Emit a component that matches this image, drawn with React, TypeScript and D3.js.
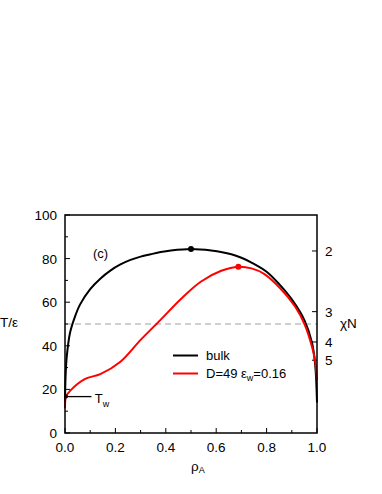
import * as d3 from 'd3'

// bulk coexistence curve
const bulkRho = [0, 0.002, 0.007, 0.02, 0.04, 0.06, 0.1, 0.14, 0.18, 0.22, 0.26, 0.3, 0.34, 0.38, 0.42, 0.5, 0.58, 0.66, 0.7, 0.74, 0.8, 0.85, 0.9, 0.95, 0.98, 0.993, 1.0]
const bulkT = [14, 25, 35, 46, 53.5, 59, 66, 70.8, 74.5, 77.3, 79.4, 80.9, 82, 83, 83.7, 84.4, 83.7, 82, 80.4, 78.2, 74, 68.3, 61.3, 51.8, 41.5, 31, 14]

// film D=49, eps_w=0.16
const filmRho = [0, 0.004, 0.02, 0.08, 0.14, 0.22, 0.3, 0.38, 0.46, 0.54, 0.62, 0.688, 0.74, 0.79, 0.853, 0.913, 0.952, 0.979, 0.992, 1.0]
const filmT = [11.3, 16.7, 19.3, 24.8, 27, 32.7, 42.7, 52, 61.5, 69.5, 74.4, 76.3, 75.5, 73, 66.5, 58, 49.5, 40, 33.5, 24.3]

const bulkCrit = [0.5, 84.4]
const filmCrit = [0.688, 76.3]
const Tw = 16.7

const xTicks = [0, 0.2, 0.4, 0.6, 0.8, 1.0]
const yTicks = [0, 20, 40, 60, 80, 100]
const chiTicks = [2, 3, 4, 5]
const chiConst = 167 // T/eps = 167 / chiN

const font = 'Liberation Sans, Arial, Helvetica, sans-serif'

export default function App() {
  const W = 382
  const H = 494
  const x = d3.scaleLinear().domain([0, 1]).range([65, 317])
  const y = d3.scaleLinear().domain([0, 100]).range([433, 215])
  const chi = d3
    .scalePow()
    .exponent(-1)
    .domain([chiConst / 100, chiConst / 50])
    .range([y(100), y(50)])

  const line = d3
    .line<number>()
    .x(d => x(d))
    .curve(d3.curveCatmullRom.alpha(0.5))

  const bulkPath = line.y((d, i) => y(bulkT[i]))(bulkRho) || ''
  const filmPath = line.y((d, i) => y(filmT[i]))(filmRho) || ''

  const xMinor = d3.range(0, 1.0001, 0.1)
  const yMinor = d3.range(0, 100.001, 10)

  return (
    <svg
      width={W}
      height={H}
      style={{ position: 'absolute', left: 0, top: 0, background: '#fff' }}
      fontFamily={font}
    >
      {/* dashed reference line */}
      <line x1={x(0)} x2={x(1)} y1={y(50)} y2={y(50)} stroke="#a0a0a0" strokeWidth={1} strokeDasharray="6,4" />

      {/* inward ticks */}
      {xMinor.map((v, i) => (
        <line key={'xt' + i} x1={x(v)} x2={x(v)} y1={y(0)} y2={y(0) - (i % 2 === 0 ? 5 : 3)} stroke="#000" strokeWidth={1} />
      ))}
      {yMinor.map((v, i) => (
        <line key={'yt' + i} x1={x(0)} x2={x(0) + (i % 2 === 0 ? 5 : 3)} y1={y(v)} y2={y(v)} stroke="#000" strokeWidth={1} />
      ))}
      {chiTicks.map(c => (
        <line key={'ct' + c} x1={x(1)} x2={x(1) - 5} y1={chi(c)} y2={chi(c)} stroke="#000" strokeWidth={1} />
      ))}

      {/* curves */}
      <path d={bulkPath} fill="none" stroke="#000" strokeWidth={2} />
      <path d={filmPath} fill="none" stroke="#ff0000" strokeWidth={2} />
      <circle cx={x(bulkCrit[0])} cy={y(bulkCrit[1])} r={3} fill="#000" />
      <circle cx={x(filmCrit[0])} cy={y(filmCrit[1])} r={3} fill="#ff0000" />

      {/* T_w marker */}
      <line x1={x(0)} x2={x(0.105)} y1={y(Tw)} y2={y(Tw)} stroke="#000" strokeWidth={1.3} />
      <circle cx={x(0) + 1} cy={y(Tw)} r={2} fill="#000" />
      <text x={x(0.118)} y={y(Tw) + 6} fontSize={13}>
        T<tspan fontSize={9} dy={4}>w</tspan>
      </text>

      {/* frame */}
      <rect x={x(0)} y={y(100)} width={x(1) - x(0)} height={y(0) - y(100)} fill="none" stroke="#000" strokeWidth={1.5} />

      {/* tick labels */}
      {xTicks.map(v => (
        <text key={'xl' + v} x={x(v)} y={452} fontSize={13.5} textAnchor="middle">
          {v.toFixed(1)}
        </text>
      ))}
      {yTicks.map(v => (
        <text key={'yl' + v} x={57} y={y(v) + 5} fontSize={13.5} textAnchor="end">
          {v}
        </text>
      ))}
      {chiTicks.map(c => (
        <text key={'cl' + c} x={325} y={chi(c) + 5} fontSize={13.5}>
          {c}
        </text>
      ))}

      {/* axis titles */}
      <text x={0} y={327} fontSize={13.5}>T/ε</text>
      <text x={340} y={328} fontSize={13.5}>χN</text>
      <text x={191} y={471} fontSize={13.5}>
        ρ<tspan fontSize={9} dy={2}>A</tspan>
      </text>
      <text x={93} y={258} fontSize={13}>(c)</text>

      {/* legend */}
      <line x1={173} x2={198} y1={355.5} y2={355.5} stroke="#000" strokeWidth={2} />
      <text x={206} y={360} fontSize={13}>bulk</text>
      <line x1={173} x2={198} y1={373.5} y2={373.5} stroke="#ff0000" strokeWidth={2} />
      <text x={206} y={378} fontSize={13}>
        D=49 ε<tspan fontSize={9} dy={3}>w</tspan>
        <tspan dy={-3}>=0.16</tspan>
      </text>
    </svg>
  )
}
